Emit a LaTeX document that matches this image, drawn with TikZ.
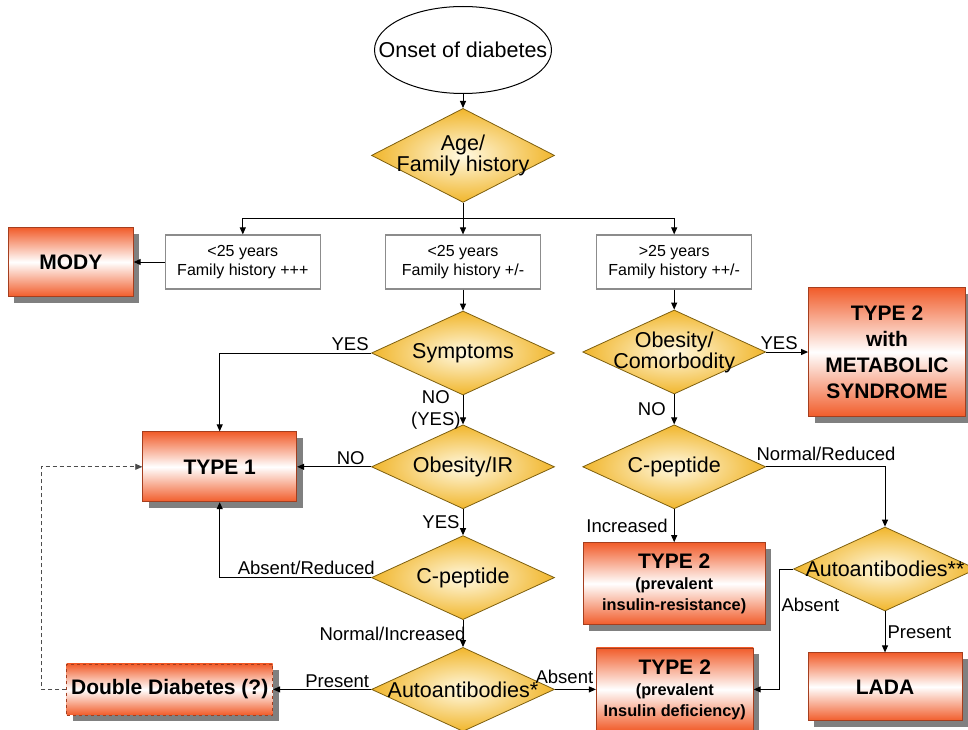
\documentclass[tikz,border=0pt]{standalone}
\usepackage{fontspec}
\setmainfont{Liberation Sans}
\usetikzlibrary{positioning,arrows.meta,shapes.geometric,shadows}
\definecolor{diaouter}{RGB}{241,182,44}
\definecolor{diainner}{RGB}{255,249,226}
\definecolor{diaedge}{RGB}{125,95,15}
\definecolor{resred}{RGB}{241,92,42}
\definecolor{resedge}{RGB}{165,62,30}
\newcommand{\dfont}{\fontsize{21.5}{19}\selectfont}
\newcommand{\cfont}{\fontsize{16}{19}\selectfont}
\newcommand{\efont}{\fontsize{18.5}{22}\selectfont}
\newcommand{\rfont}{\fontsize{21}{21}\selectfont\bfseries}
\newcommand{\mfont}{\fontsize{21}{26}\selectfont\bfseries}
\newcommand{\sfont}{\fontsize{16.3}{20}\selectfont\bfseries}

\begin{document}
\begin{tikzpicture}[
  x=1pt, y=-1pt,
  start/.style={ellipse, draw, line width=1pt, fill=white, minimum width=177pt, minimum height=87pt, inner sep=0pt},
  dec/.style={diamond, draw=diaedge, line width=0.8pt, inner color=diainner, outer color=diaouter, minimum width=183pt, minimum height=84pt, inner sep=0pt},
  dtext/.style={font=\dfont, align=center, inner sep=0pt},
  crit/.style={draw=black!45, line width=1.2pt, fill=white, minimum width=155pt, minimum height=54pt, align=center, font=\cfont},
  res/.style={draw=resedge, line width=0.8pt, top color=resred, bottom color=resred, middle color=white, drop shadow={shadow xshift=6pt, shadow yshift=-6pt, fill=black!50, opacity=1}, align=center, font=\rfont, inner sep=1pt},
  arr/.style={-{Triangle[length=7pt, width=6pt]}, line width=1pt},
  lbl/.style={font=\efont, inner sep=2pt}
]
\useasboundingbox (0,0) rectangle (968,730);
% main column
\node[start, label={[dtext]center:Onset of diabetes}] (onset) at (463,50) {};
\node[dec, minimum height=94pt, below=14pt of onset, label={[dtext]center:{Age/\\Family history}}] (age) {};
\coordinate (split) at (463,218);
\node[crit] (fam2) at (463,262) {<25 years\\Family history +/-};
\node[crit, left=64pt of fam2] (fam1) {<25 years\\Family history +++};
\node[crit, right=55pt of fam2] (fam3) {>25 years\\Family history ++/-};
\node[res, minimum width=125pt, minimum height=69pt, left=31pt of fam1] (mody) {MODY};
\node[dec, below=21pt of fam2, label={[dtext]center:Symptoms}] (symp) {};
\node[dec, below=29pt of symp, label={[dtext]center:Obesity/IR}] (obir) {};
\node[dec, below=26pt of obir, label={[dtext]center:C-peptide}] (cpep1) {};
\node[dec, below=27pt of cpep1, label={[dtext]center:Autoantibodies*}] (auto1) {};
\node[res, minimum width=154pt, minimum height=70pt, left=74pt of obir] (type1) {TYPE 1};
\node[res, dashed, minimum width=206pt, minimum height=51pt, left=98pt of auto1] (dd) {Double Diabetes (?)};
\node[res, minimum width=157pt, minimum height=83pt, right=41pt of auto1] (t2d) {TYPE 2\\{\sfont (prevalent}\\{\sfont Insulin deficiency)}};
% right column
\node[dec, below=20pt of fam3, label={[dtext]center:{Obesity/\\Comorbodity}}] (obco) {};
\node[res, font=\mfont, minimum width=157pt, minimum height=129pt, right=42pt of obco] (t2m) {TYPE 2\\with\\METABOLIC\\SYNDROME};
\node[dec, below=30pt of obco, label={[dtext]center:C-peptide}] (cpep2) {};
\node[res, minimum width=182pt, minimum height=82pt, below=33pt of cpep2] (t2r) {TYPE 2\\{\sfont (prevalent}\\{\sfont insulin-resistance)}};
\node[dec, label={[dtext]center:Autoantibodies**}] (auto2) at (885,569) {};
\node[res, minimum width=154pt, minimum height=68pt, below=41pt of auto2] (lada) {LADA};
% connectors
\draw[arr] (onset) -- (age);
\draw[line width=1pt] (age) -- (split);
\draw[arr] (split) -| (fam1);
\draw[arr] (split) -- (fam2);
\draw[arr] (split) -| (fam3);
\draw[arr] (fam1) -- (mody);
\draw[arr] (fam2) -- (symp);
\draw[arr] (symp.west) node[lbl, above left] {YES} -| (type1.north);
\draw[arr] (symp) -- node[lbl, left, inner sep=0pt, xshift=-2pt, align=center] {NO\\(YES)} (obir);
\draw[arr] (obir.west) node[lbl, above left, xshift=-4pt] {NO} -- (type1.east);
\draw[arr] (obir) -- node[lbl, left, inner sep=0pt, xshift=-3pt] {YES} (cpep1);
\draw[arr] (cpep1.west) node[lbl, above left, xshift=6pt] {Absent/Reduced} -| (type1.south);
\draw[arr] (cpep1) -- node[lbl, left, inner sep=0pt, xshift=3pt] {Normal/Increased} (auto1);
\draw[arr] (auto1.west) node[lbl, above left, inner sep=1.5pt] {Present} -- (dd.east);
\draw[arr] (auto1.east) -- node[lbl, above, xshift=-11pt, yshift=3pt] {Absent} (t2d.west);
\draw[arr, draw=black!70, line width=0.8pt, dash pattern=on 4pt off 3pt] (dd.west) -- ++(-25,0) |- (type1.west);
\draw[arr] (fam3) -- (obco);
\draw[arr] (obco) -- node[lbl, above, xshift=-8pt] {YES} (t2m);
\draw[arr] (obco) -- node[lbl, left, xshift=-6pt] {NO} (cpep2);
\draw[arr] (cpep2.east) node[lbl, above right, inner sep=0pt, xshift=-10pt, yshift=6pt] {Normal/Reduced} -| (auto2.north);
\draw[arr] (cpep2) -- node[lbl, left, inner sep=0pt, xshift=-6pt] {Increased} (t2r);
\draw[arr] (auto2.west) -- ++(-14,0) |- node[lbl, right, pos=0.15] {Absent} (t2d.east);
\draw[arr] (auto2) -- node[lbl, right] {Present} (lada);
\end{tikzpicture}
\end{document}
